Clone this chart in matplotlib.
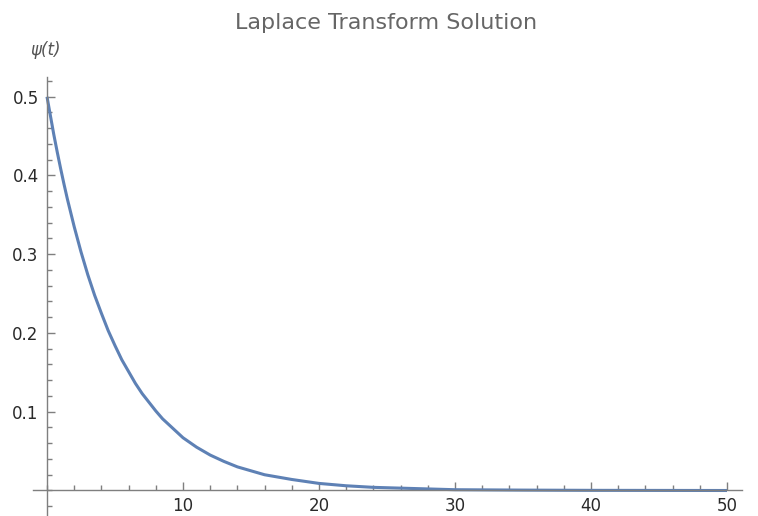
import matplotlib.pyplot as plt
import numpy as np
from matplotlib.ticker import MultipleLocator, FixedLocator

# values
t_vals = [0, 0.25, 0.5, 0.75, 1, 1.25, 1.5, 2, 2.5, 3, 3.5, 4, 4.5, 5, 5.5,
          6, 6.5, 7, 7.5, 8, 8.5, 9, 9.5, 10, 11, 12, 13, 14, 15, 16, 17,
          18, 20, 22, 24, 26, 28, 30, 35, 40, 45, 50]
psi_vals = [0.500, 0.476, 0.452, 0.430, 0.409, 0.389, 0.370, 0.335, 0.303,
            0.274, 0.248, 0.225, 0.203, 0.184, 0.166, 0.151, 0.136, 0.123,
            0.112, 0.101, 0.091, 0.083, 0.075, 0.067, 0.055, 0.045, 0.037,
            0.030, 0.025, 0.020, 0.017, 0.014, 0.009, 0.006, 0.004, 0.003,
            0.002, 0.001, 0.0005, 0.0002, 0.0001, 0.0]
x_ticks = [10, 20, 30, 40, 50]
y_ticks = [0.1, 0.2, 0.3, 0.4, 0.5]
title = 'Laplace Transform Solution'
y_label = 'ψ(t)'

W, H = 758, 516
fig = plt.figure(figsize=(W / 100, H / 100), dpi=100)

# axes placed so that t=0 sits at x=47px and psi=0 at y=490px
x0, x1 = -1.0, 51.1
y0, y1 = -0.033, 0.525
px_per_t = 13.6
px_per_psi = 787.5
left = (47 + x0 * px_per_t) / W
width = (x1 - x0) * px_per_t / W
bottom = (H - (490.5 - y0 * px_per_psi)) / H
height = (y1 - y0) * px_per_psi / H
ax = fig.add_axes([left, bottom, width, height])

ax.plot(t_vals, psi_vals, color='#5E81B5', lw=2.2, solid_capstyle='butt')
ax.set_xlim(x0, x1)
ax.set_ylim(y0, y1)

axis_col = '#7f7f7f'
for s in ['top', 'right']:
    ax.spines[s].set_visible(False)
ax.spines['left'].set_position(('data', 0))
ax.spines['bottom'].set_position(('data', 0))
for s in ['left', 'bottom']:
    ax.spines[s].set_color(axis_col)
    ax.spines[s].set_linewidth(1.0)

ax.xaxis.set_major_locator(FixedLocator(x_ticks))
ax.xaxis.set_minor_locator(MultipleLocator(2))
ax.yaxis.set_major_locator(FixedLocator(y_ticks))
ax.yaxis.set_minor_locator(MultipleLocator(0.02))
ax.set_xticklabels([str(v) for v in x_ticks])
ax.set_yticklabels([f'{v:.1f}' for v in y_ticks])
ax.tick_params(which='both', direction='in', color=axis_col, width=1.0)
ax.tick_params(which='major', length=6)
ax.tick_params(which='minor', length=3.5)
ax.tick_params(axis='both', labelsize=12, labelcolor='#2a2a2a')
ax.tick_params(axis='x', pad=5)
ax.tick_params(axis='y', pad=6)
for lab in ax.get_xticklabels() + ax.get_yticklabels():
    lab.set_family('DejaVu Sans')

fig.text(386 / W, 1 - 23 / H, title, ha='center', va='center',
         fontsize=16, color='#666666', family='DejaVu Sans')
fig.text(46 / W, 1 - 50 / H, y_label, ha='center', va='center',
         fontsize=12, color='#555555', style='italic', family='DejaVu Sans')

fig.savefig('out.png', dpi=100)
